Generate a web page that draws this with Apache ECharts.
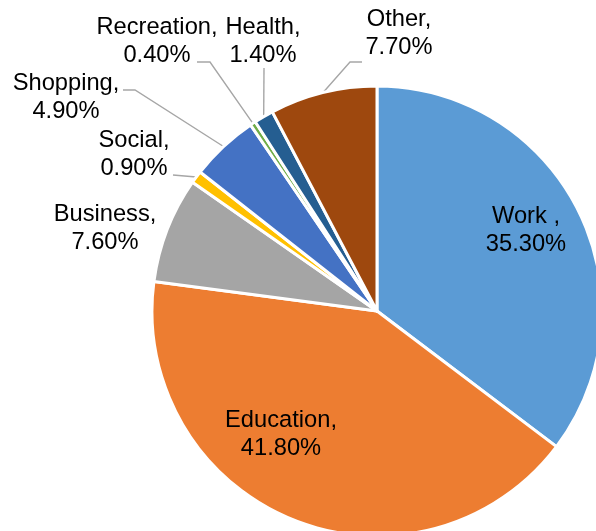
<!DOCTYPE html>
<html>
<head>
<meta charset="utf-8">
<script src="https://cdn.jsdelivr.net/npm/echarts@6/dist/echarts.min.js"></script>
<style>
html,body{margin:0;padding:0;background:#fff;}
#chart{width:596px;height:531px;}
</style>
</head>
<body>
<div id="chart"></div>
<script>
var categories = ['Work', 'Education', 'Business', 'Social', 'Shopping', 'Recreation', 'Health', 'Other'];
var values = [35.3, 41.8, 7.6, 0.9, 4.9, 0.4, 1.4, 7.7];
var colors = ['#5B9BD5', '#ED7D31', '#A5A5A5', '#FFC000', '#4472C4', '#70AD47', '#255E91', '#9E480E'];
var separators = [' ,', ',', ',', ',', ',', ',', ',', ','];

// style: pie geometry
var CX = 377, CY = 311, R = 225;
// style: centre of each two-line label block
var labelPos = [
  [526, 230], [281, 434], [105, 228], [134, 154],
  [66, 97], [157, 41], [263, 41], [399, 33]
];
// style: leader-line path near the label (bend point, end point); null = no leader
var leaderNear = [
  null, null, null,
  [[173, 175]],
  [[135, 90], [123, 90]],
  [[210, 62], [197, 62]],
  [[264, 68]],
  [[350, 62], [362, 62]]
];

var total = values.reduce(function (a, b) { return a + b; }, 0);
function edgePoint(i) {
  var before = 0;
  for (var k = 0; k < i; k++) before += values[k];
  var frac = (before + values[i] / 2) / total;
  var ang = frac * 2 * Math.PI; // clockwise from 12 o'clock
  return [CX + R * Math.sin(ang), CY - R * Math.cos(ang)];
}

var chart = echarts.init(document.getElementById('chart'));
var data = categories.map(function (c, i) {
  return {
    name: c,
    value: values[i],
    itemStyle: { color: colors[i] },
    labelLine: { show: leaderNear[i] != null }
  };
});

chart.setOption({
  animation: false,
  series: [{
    type: 'pie',
    center: [CX, CY],
    radius: R,
    startAngle: 90,
    clockwise: true,
    avoidLabelOverlap: false,
    data: data,
    itemStyle: { borderColor: '#fff', borderWidth: 3 },
    label: {
      show: true,
      position: 'outside',
      fontFamily: 'Liberation Sans, Arial, sans-serif',
      fontSize: 23.7,
      lineHeight: 28,
      color: '#000',
      align: 'center',
      formatter: function (p) {
        return p.name + separators[p.dataIndex] + '\n' + values[p.dataIndex].toFixed(2) + '%';
      }
    },
    labelLine: {
      show: true,
      length: 10,
      length2: 10,
      lineStyle: { color: '#A6A6A6', width: 1.4 }
    },
    labelLayout: function (params) {
      var i = params.dataIndex;
      var p = labelPos[i];
      var res = { x: p[0], y: p[1], align: 'center', verticalAlign: 'middle' };
      if (leaderNear[i]) {
        res.labelLinePoints = [edgePoint(i)].concat(leaderNear[i]);
      }
      return res;
    }
  }]
});
</script>
</body>
</html>
